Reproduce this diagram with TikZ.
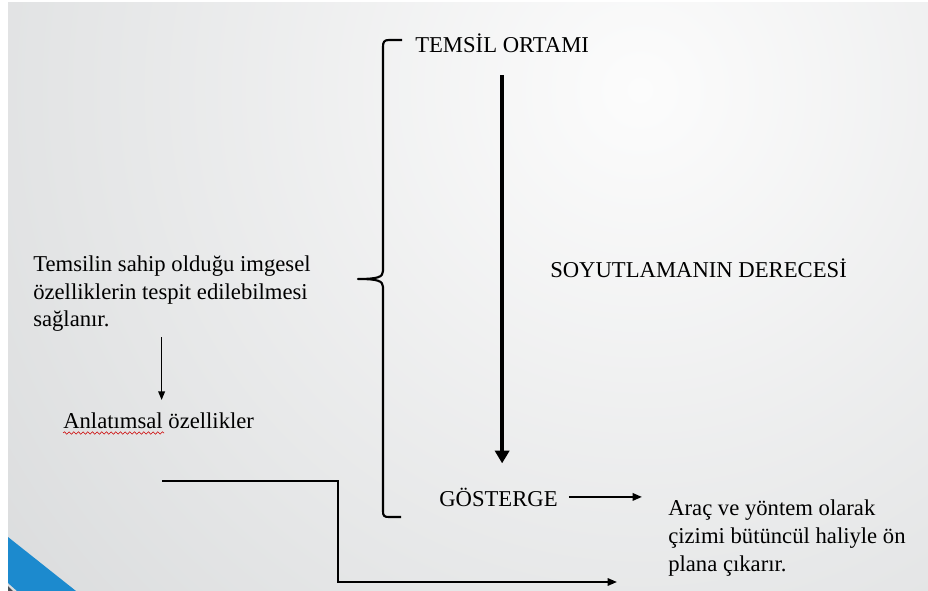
\documentclass[tikz,border=0pt]{standalone}
\usepackage{fontspec}
\setmainfont{Liberation Serif}
\newfontfamily\tnr{Liberation Serif}
\usetikzlibrary{arrows.meta,decorations.pathmorphing,calc}
\definecolor{bgin}{HTML}{FCFCFC}
\definecolor{bgout}{HTML}{C0C3C5}
\definecolor{tri}{RGB}{28,138,206}
\definecolor{tridark}{HTML}{4A4F55}
\begin{document}
\begin{tikzpicture}[x=0.75pt,y=-0.75pt,
  txt/.style={inner sep=0pt, font=\tnr\fontsize{17}{20.8}\selectfont, text=black, align=left},
  brace/.style={line width=1.6pt, line join=round},
  bigarrow/.style={line width=3pt, -{Triangle[width=10.5pt,length=9.5pt]}},
  thinarrow/.style={line width=1.2pt, -{Triangle[width=5pt,length=6.5pt]}},
  midarrow/.style={line width=1.5pt, -{Triangle[width=5.5pt,length=7pt]}},
  elbow/.style={line width=1.5pt, -{Triangle[width=5.5pt,length=7pt]}}]
\useasboundingbox (0,0) rectangle (928,591);
% background
\fill[white] (0,0) rectangle (928,591);
\begin{scope}
  \clip (8,3) rectangle (928,591);
  \shade[inner color=bgin, outer color=bgout] (640,90) circle (1450);
  \fill[tri] (8,537) -- (76,591) -- (17,591) -- (8,583) -- cycle;
  \fill[tridark] (8,586) -- (13,591) -- (8,591) -- cycle;
\end{scope}
% texts
\node[txt, anchor=base west] (temsil) at (415,53) {TEMSİL ORTAMI};
\node[txt, anchor=base west] (soyut) at (550,278) {SOYUTLAMANIN DERECESİ};
\node[txt, anchor=base west] (gosterge) at (439,506) {GÖSTERGE};
\node[txt, anchor=base west] (sol) at (33,327) {Temsilin sahip olduğu imgesel\\özelliklerin tespit edilebilmesi\\sağlanır.};
\node[txt, anchor=base west] (anlatim) at (63,428) {Anlatımsal özellikler};
\node[txt, anchor=base west] (arac) at (668,571) {Araç ve yöntem olarak\\çizimi bütüncül haliyle ön\\plana çıkarır.};
% spelling underline
\draw[red!80!black, line width=0.4pt, decorate, decoration={snake, amplitude=0.9, segment length=3.5}] (63,433) -- (164,433);
% bracket
\draw[brace] (402,40) -- (389,40) .. controls (384,40) and (383,42) .. (383,47)
  -- (383,271) .. controls (383,277) and (378,279) .. (358,279)
  .. controls (378,279) and (383,281) .. (383,287)
  -- (383,511) .. controls (383,516) and (384,517) .. (389,517) -- (401,517);
% arrows
\draw[bigarrow] ($(temsil.south)+(0,22)$) -- ($(temsil.south |- gosterge.north)+(0,-24)$);
\draw[thinarrow] ($(anlatim.north)+(3,-75)$) -- ($(anlatim.north)+(3,-12)$);
\draw[midarrow] ($(gosterge.east)+(11,0)$) -- ($(gosterge.east -| arac.west)+(-26,0)$);
\coordinate (e0) at (162,481);
\coordinate (e1) at (617,582);
\draw[elbow] (e0) -- (338,481) |- (e1);
\end{tikzpicture}
\end{document}
